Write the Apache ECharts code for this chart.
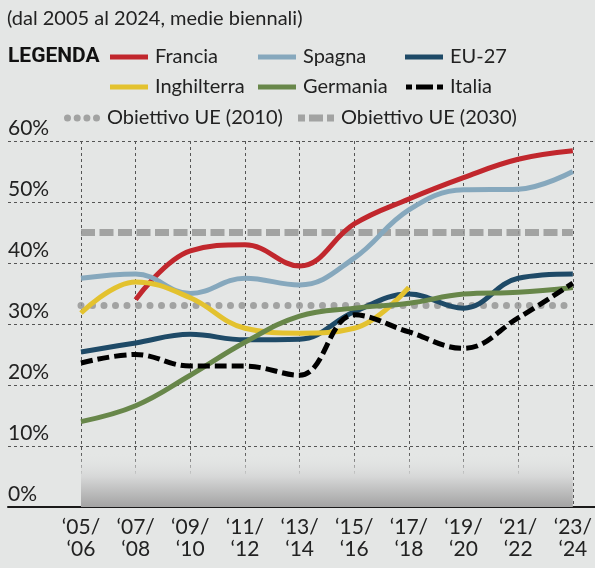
<!DOCTYPE html>
<html>
<head>
<meta charset="utf-8">
<title>Obiettivi UE</title>
<script src="https://cdn.jsdelivr.net/npm/echarts@6/dist/echarts.min.js"></script>
<style>
  html, body { margin: 0; padding: 0; background: #e4e6e5; }
  #main { width: 595px; height: 568px; }
</style>
</head>
<body>
<div id="main"></div>
<script type="text/javascript">
// dati (valori %, medie biennali)
var categories = ['\u201805/\n\u201806', '\u201807/\n\u201808', '\u201809/\n\u201810', '\u201811/\n\u201812', '\u201813/\n\u201814',
                  '\u201815/\n\u201816', '\u201817/\n\u201818', '\u201819/\n\u201820', '\u201821/\n\u201822', '\u201823/\n\u201824'];
var francia     = [null, 34, 42, 43, 39.5, 46.4, 50.5, 54, 57, 58.4];
var spagna      = [37.5, 38.2, 35, 37.5, 36.4, 40.8, 48.7, 52, 52.1, 55];
var eu27        = [25.4, 26.9, 28.3, 27.4, 27.5, 32, 34.9, 32.6, 37.5, 38.2];
var inghilterra = [31.8, 36.9, 34.3, 29.3, 28.5, 29.3, 36, null, null, null];
var germania    = [14, 16.6, 21.6, 27, 31.3, 32.6, 33.4, 34.9, 35.2, 36];
var italia      = [23.6, 25, 23.1, 23.1, 21.6, 31.5, 28.7, 26, 31, 36.7];
var obiettivo2010 = 33;
var obiettivo2030 = 45;

var FONT = 'Lato';
var txt = '#222';

var chart = echarts.init(document.getElementById('main'));

function leg(name, left, top, w, h, icon) {
  return {
    data: [{ name: name, icon: icon }],
    left: left, top: top, padding: 0,
    itemWidth: w, itemHeight: h,
    itemStyle: { borderWidth: 0 },
    lineStyle: { width: 0 },
    selectedMode: false,
    textStyle: { fontFamily: FONT, fontSize: 20, color: txt, padding: [0, 0, 0, 2] }
  };
}

var dashIcon = 'path://M0,0h6v5h-6z M10,0h17v5h-17z M31,0h6v5h-6z';
var dotIcon = 'path://M0,3.5a3.5,3.5 0 1,0 7,0a3.5,3.5 0 1,0 -7,0z M9.7,3.5a3.5,3.5 0 1,0 7,0a3.5,3.5 0 1,0 -7,0z M19.4,3.5a3.5,3.5 0 1,0 7,0a3.5,3.5 0 1,0 -7,0z M29,3.5a3.5,3.5 0 1,0 7,0a3.5,3.5 0 1,0 -7,0z';
var greyDashIcon = 'path://M0,0h7v7h-7z M11,0h14v7h-14z M29,0h7v7h-7z';

function lineSeries(name, data, color, dashed) {
  return {
    name: name, type: 'line', xAxisIndex: 1, yAxisIndex: 1,
    data: data, smooth: 0.4, symbol: 'none', connectNulls: false,
    color: color,
    lineStyle: { width: 5, color: color, type: dashed ? [12, 5] : 'solid', cap: 'butt' },
    z: 5
  };
}

var option = {
  backgroundColor: '#e4e6e5',
  animation: false,
  textStyle: { fontFamily: FONT },
  title: [
    { text: '(dal 2005 al 2024, medie biennali)', left: 7, top: 9, padding: 0,
      textStyle: { fontFamily: FONT, fontSize: 20, fontWeight: 'normal', color: txt } },
    { text: 'LEGENDA', left: 8, top: 46, padding: 0,
      textStyle: { fontFamily: 'Roboto', fontSize: 21, fontWeight: 'bold', color: '#111' } }
  ],
  legend: [
    leg('Francia', 110, 47, 38, 5, 'rect'),
    leg('Spagna', 258, 47, 38, 5, 'rect'),
    leg('EU-27', 405, 47, 38, 5, 'rect'),
    leg('Inghilterra', 110, 77, 38, 5, 'rect'),
    leg('Germania', 258, 77, 38, 5, 'rect'),
    leg('Italia', 406, 77, 37, 5, dashIcon),
    leg('Obiettivo UE (2010)', 64, 108, 36, 7, dotIcon),
    leg('Obiettivo UE (2030)', 298, 108, 36, 7, greyDashIcon)
  ],
  grid: [
    { left: 8, right: 0, top: 141, bottom: 61 },
    { left: 81, right: 16, top: 141, bottom: 61 }
  ],
  xAxis: [
    { type: 'value', gridIndex: 0, min: 0, max: 1,
      axisLine: { show: true, onZero: false, lineStyle: { color: '#1a1a1a', width: 2 } },
      axisTick: { show: false }, axisLabel: { show: false }, splitLine: { show: false } },
    { type: 'category', gridIndex: 1, data: categories, boundaryGap: false,
      axisLine: { show: false }, axisTick: { show: false },
      axisLabel: { fontFamily: FONT, fontSize: 21, color: txt, lineHeight: 22, margin: 9, interval: 0 },
      splitLine: { show: true, lineStyle: { color: '#555', width: 1, type: [3, 3] } } }
  ],
  yAxis: [
    { type: 'value', gridIndex: 0, min: 0, max: 60, interval: 10,
      axisLine: { show: false }, axisTick: { show: false },
      axisLabel: { inside: true, margin: 0, formatter: '{value}%', verticalAlign: 'bottom', padding: [0, 0, 2, 0],
        fontFamily: FONT, fontSize: 21, color: txt },
      splitLine: { show: true, lineStyle: { color: '#555', width: 1, type: [3, 3] } } },
    { type: 'value', gridIndex: 1, min: 0, max: 60, interval: 10, show: false, splitLine: { show: false } }
  ],
  series: [
    {
      name: 'Obiettivo UE (2010)', type: 'line', xAxisIndex: 1, yAxisIndex: 1, data: [],
      color: 'rgba(150,150,150,0.85)',
      markArea: {
        silent: true,
        itemStyle: { color: { type: 'linear', x: 0, y: 0, x2: 0, y2: 1,
          colorStops: [{ offset: 0, color: 'rgba(228,230,229,0)' }, { offset: 0.45, color: '#d6d7d7' }, { offset: 1, color: '#a3a3a3' }] } },
        data: [[{ coord: [0, 0] }, { coord: [categories.length - 1, 9] }]]
      },
      markLine: {
        silent: true, symbol: ['none', 'none'], label: { show: false },
        lineStyle: { color: 'rgba(150,150,150,0.85)', width: 7, type: [0, 11.5], cap: 'round' },
        data: [{ yAxis: obiettivo2010 }]
      },
      z: 8
    },
    {
      name: 'Obiettivo UE (2030)', type: 'line', xAxisIndex: 1, yAxisIndex: 1, data: [],
      color: 'rgba(150,150,150,0.85)',
      markLine: {
        silent: true, symbol: ['none', 'none'], label: { show: false },
        lineStyle: { color: 'rgba(150,150,150,0.85)', width: 7, type: [14, 4.5], cap: 'butt' },
        data: [{ yAxis: obiettivo2030 }]
      },
      z: 8
    },
    lineSeries('Francia', francia, '#c1272d'),
    lineSeries('Spagna', spagna, '#86a8bd'),
    lineSeries('EU-27', eu27, '#1e4a67'),
    lineSeries('Inghilterra', inghilterra, '#e3c22f'),
    lineSeries('Germania', germania, '#68874a'),
    lineSeries('Italia', italia, '#000000', true)
  ]
};
chart.setOption(option);
</script>
</body>
</html>
